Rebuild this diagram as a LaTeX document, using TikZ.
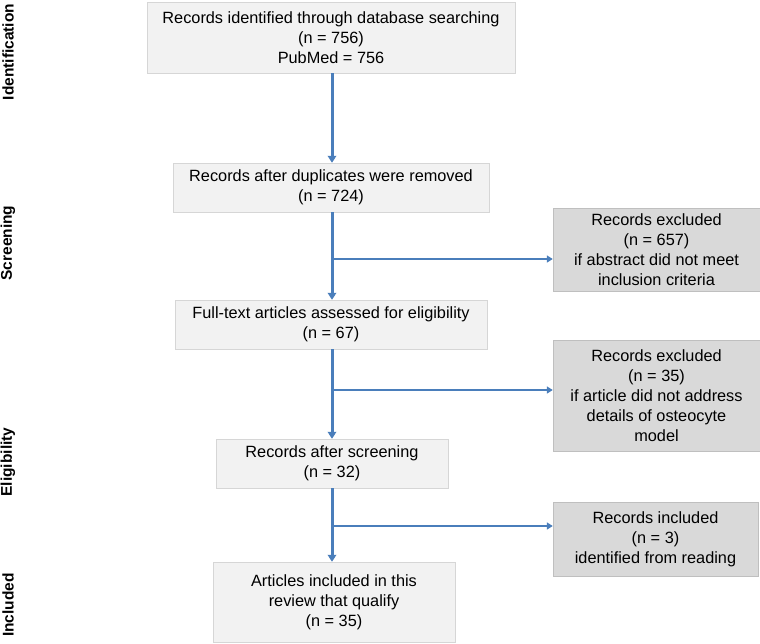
\documentclass[tikz,border=0pt]{standalone}
\usepackage{fontspec}
\setmainfont{Liberation Sans}
\usepackage{tikz}
\usetikzlibrary{positioning,arrows.meta}

\definecolor{boxfill}{HTML}{F2F2F2}
\definecolor{boxline}{HTML}{D6D6D6}
\definecolor{sidefill}{HTML}{D9D9D9}
\definecolor{sideline}{HTML}{BFBFBF}
\definecolor{flowblue}{HTML}{4A7EBB}

\tikzset{
  mainbox/.style={draw=boxline, fill=boxfill, align=center, inner sep=0pt,
    font=\fontsize{16.3}{20}\selectfont},
  sidebox/.style={draw=sideline, fill=sidefill, align=center, inner sep=0pt,
    font=\fontsize{16.3}{20}\selectfont},
  phase/.style={rotate=90, font=\bfseries\fontsize{15.5}{18}\selectfont},
  mainflow/.style={draw=flowblue, line width=3pt, -{Triangle[width=8.5pt,length=7pt]}},
  sideflow/.style={draw=flowblue, line width=1.9pt, -{Triangle[width=7pt,length=6pt]}}
}

\begin{document}
\begin{tikzpicture}[x=1pt, y=-1pt]
        \useasboundingbox (0,0) rectangle (760,643);
        % main column
        \node[mainbox, minimum width=368pt, minimum height=71pt] (ID)  at (331, 37.5) {Records identified through database searching\\(n = 756)\\PubMed = 756};
        \node[mainbox, minimum width=316pt, minimum height=49pt] (DUP) at (331, 187.5) {Records after duplicates were removed\\(n = 724)};
        \node[mainbox, minimum width=312pt, minimum height=49pt] (FT)  at (331, 324.5) {Full-text articles assessed for eligibility\\(n = 67)};
        \node[mainbox, minimum width=232pt, minimum height=49pt] (SCR) at (332, 463.5) {Records after screening\\(n = 32)};
        \node[mainbox, minimum width=242pt, minimum height=80pt] (INC) at (334, 602) {Articles included in this\\review that qualify\\(n = 35)};
        % side boxes
        \node[sidebox, minimum width=207pt, minimum height=83pt]  (EX1) at (656.5, 249.5) {Records excluded\\(n = 657)\\if abstract did not meet\\inclusion criteria};
        \node[sidebox, minimum width=207pt, minimum height=111pt] (EX2) at (656.5, 395.5) {Records excluded\\(n = 35)\\if article did not address\\details of osteocyte\\model};
        \node[sidebox, minimum width=205pt, minimum height=74pt]  (RD)  at (655.5, 539) {Records included\\(n = 3)\\identified from reading};
        % phase labels
        \node[phase] (L1) at (8, 52)  {Identification};
        \node[phase] (L2) at (8, 243) {Screening};
        \node[phase] (L3) at (8, 462) {Eligibility};
        \node[phase] (L4) at (8, 605) {Included};
        % branch points
        \coordinate (B1) at (332, 259);
        \coordinate (B2) at (332, 390);
        \coordinate (B3) at (332, 526);
        \draw[mainflow] (ID.south -| B1) -- (DUP.north -| B1);
        \draw[mainflow] (DUP.south -| B1) -- (FT.north -| B1);
        \draw[mainflow] (FT.south -| B2) -- (SCR.north -| B2);
        \draw[mainflow] (SCR.south -| B3) -- (INC.north -| B3);
        \draw[sideflow] (B1) -- (B1 -| EX1.west);
        \draw[sideflow] (B2) -- (B2 -| EX2.west);
        \draw[sideflow] (B3) -- (B3 -| RD.west);
\end{tikzpicture}
\end{document}
